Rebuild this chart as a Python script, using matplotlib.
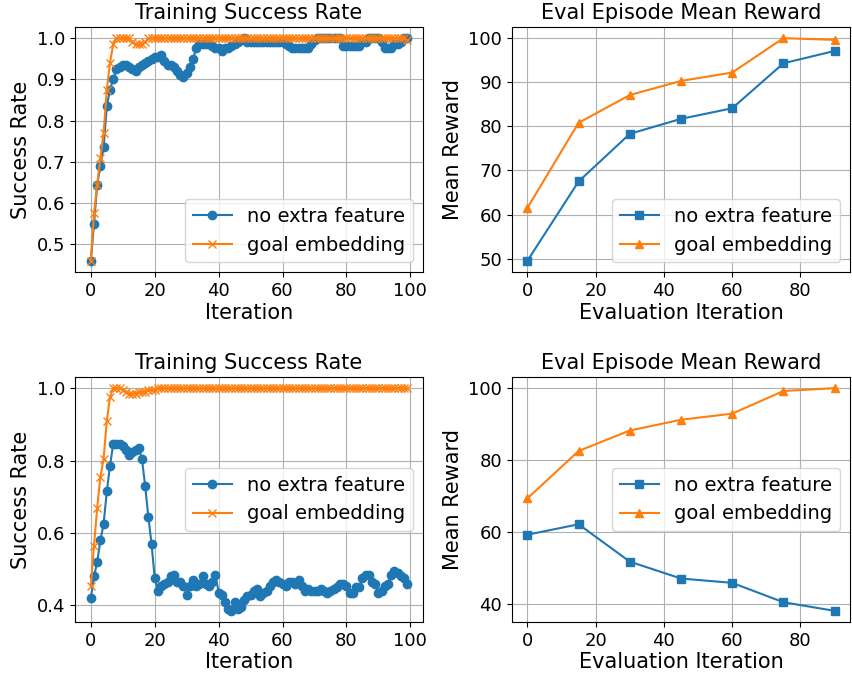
import numpy as np
import matplotlib.pyplot as plt

### 0. Data
iters = np.arange(100)
eval_iters = [0, 15, 30, 45, 60, 75, 90]

# top row
train_base_1 = [0.46, 0.55, 0.645, 0.69, 0.735, 0.835, 0.875, 0.90, 0.925, 0.93,
                0.935, 0.935, 0.93, 0.925, 0.92, 0.93, 0.935, 0.94, 0.945, 0.95,
                0.955, 0.955, 0.96, 0.945, 0.935, 0.935, 0.93, 0.92, 0.91, 0.905,
                0.915, 0.93, 0.95, 0.975, 0.985, 0.985, 0.985, 0.985, 0.98, 0.975,
                0.975, 0.97, 0.975, 0.975, 0.98, 0.985, 0.99, 0.995, 1.0, 0.99,
                0.99, 0.99, 0.99, 0.99, 0.99, 0.99, 0.99, 0.99, 0.99, 0.99,
                0.99, 0.985, 0.98, 0.975, 0.975, 0.975, 0.975, 0.975, 0.975, 0.985,
                0.995, 1.0, 1.0, 1.0, 1.0, 1.0, 1.0, 1.0, 1.0, 0.98,
                0.98, 0.98, 0.98, 0.98, 0.98, 0.99, 0.99, 1.0, 1.0, 1.0,
                1.0, 0.99, 0.975, 0.975, 0.975, 0.985, 0.985, 0.99, 1.0, 1.0]
train_goal_1 = [0.46, 0.575, 0.645, 0.71, 0.77, 0.875, 0.94, 0.985, 1.0, 1.0,
                1.0, 1.0, 1.0, 0.99, 0.985, 0.985, 0.985, 0.99, 1.0, 1.0] + [1.0] * 79 + [0.995]
eval_base_1 = [49.5, 67.5, 78.3, 81.7, 84.1, 94.3, 97.1]
eval_goal_1 = [61.5, 80.8, 87.1, 90.3, 92.2, 100.0, 99.6]

# bottom row
train_base_2 = [0.42, 0.48, 0.52, 0.58, 0.625, 0.715, 0.785, 0.845, 0.845, 0.845,
                0.84, 0.83, 0.815, 0.825, 0.83, 0.835, 0.805, 0.73, 0.645, 0.57,
                0.475, 0.44, 0.455, 0.46, 0.465, 0.48, 0.485, 0.465, 0.465, 0.455,
                0.43, 0.455, 0.47, 0.455, 0.46, 0.48, 0.46, 0.455, 0.465, 0.485,
                0.435, 0.43, 0.41, 0.39, 0.385, 0.41, 0.39, 0.395, 0.415, 0.425,
                0.43, 0.44, 0.445, 0.425, 0.435, 0.44, 0.455, 0.465, 0.47, 0.465,
                0.46, 0.455, 0.465, 0.465, 0.46, 0.47, 0.455, 0.44, 0.445, 0.44,
                0.44, 0.44, 0.445, 0.44, 0.435, 0.44, 0.445, 0.45, 0.46, 0.46,
                0.455, 0.435, 0.435, 0.45, 0.45, 0.475, 0.485, 0.485, 0.465, 0.46,
                0.435, 0.44, 0.455, 0.46, 0.485, 0.495, 0.49, 0.48, 0.475, 0.46]
train_goal_2 = [0.455, 0.565, 0.67, 0.755, 0.805, 0.91, 0.975, 1.0, 1.0, 1.0,
                0.995, 0.99, 0.985, 0.985, 0.985, 0.99, 0.99, 0.99, 0.995, 0.995,
                0.995] + [1.0] * 79
eval_base_2 = [59.2, 62.1, 51.7, 47.0, 45.8, 40.4, 38.0]
eval_goal_2 = [69.3, 82.5, 88.2, 91.2, 92.9, 99.2, 100.0]

labels = ['no extra feature', 'goal embedding']

### 1. Figure
plt.rcParams['font.size'] = 13
W, H = 852, 676
fig = plt.figure(figsize=(W / 100, H / 100), dpi=100)

def box(x0, x1, y0, y1):
    return [x0 / W, 1 - y1 / H, (x1 - x0) / W, (y1 - y0) / H]

ax_tl = fig.add_axes(box(75, 423, 27, 272))
ax_tr = fig.add_axes(box(512, 850, 27, 272))
ax_bl = fig.add_axes(box(75, 423, 377, 622))
ax_br = fig.add_axes(box(512, 850, 377, 622))

def train_plot(ax, base, goal, loc, yticks):
    ax.plot(iters, base, 'o-', label=labels[0])
    ax.plot(iters, goal, 'x-', label=labels[1])
    ax.set_title('Training Success Rate', fontsize=15)
    ax.set_xlabel('Iteration', fontsize=15, labelpad=2)
    ax.set_ylabel('Success Rate', fontsize=15)
    ax.set_yticks(yticks)
    ax.grid(True)
    ax.legend(loc=loc, fontsize=14)

def eval_plot(ax, base, goal, loc, yticks):
    ax.plot(eval_iters, base, 's-', label=labels[0])
    ax.plot(eval_iters, goal, '^-', label=labels[1])
    ax.set_title('Eval Episode Mean Reward', fontsize=15)
    ax.set_xlabel('Evaluation Iteration', fontsize=15, labelpad=2)
    ax.set_ylabel('Mean Reward', fontsize=15)
    ax.set_xticks([0, 20, 40, 60, 80])
    ax.set_yticks(yticks)
    ax.grid(True)
    ax.legend(loc=loc, fontsize=14)

train_plot(ax_tl, train_base_1, train_goal_1, 'lower right', [0.5, 0.6, 0.7, 0.8, 0.9, 1.0])
eval_plot(ax_tr, eval_base_1, eval_goal_1, 'lower right', [50, 60, 70, 80, 90, 100])
train_plot(ax_bl, train_base_2, train_goal_2, 'center right', [0.4, 0.6, 0.8, 1.0])
eval_plot(ax_br, eval_base_2, eval_goal_2, 'center right', [40, 60, 80, 100])

plt.savefig('out.png', dpi=100)
